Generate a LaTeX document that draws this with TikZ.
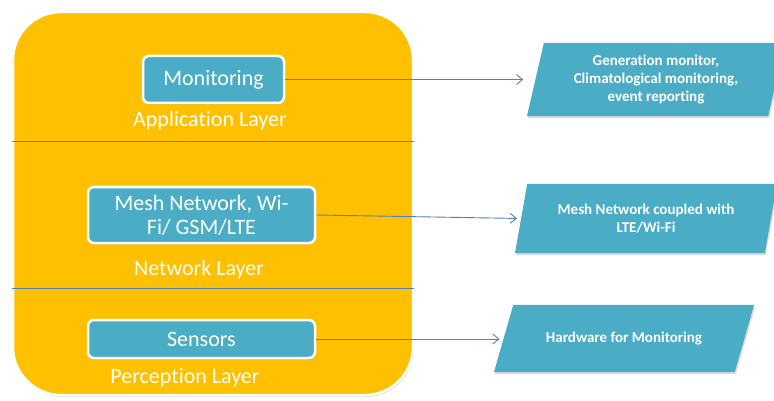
\documentclass[tikz,border=0pt]{standalone}
\usepackage{fontspec}
\setmainfont{Carlito}[Ligatures=NoCommon]
\usetikzlibrary{arrows.meta,shapes.geometric,shadows}
\definecolor{layerorange}{HTML}{FFC000}
\definecolor{boxteal}{HTML}{4BACC6}
\definecolor{linkblue}{HTML}{4F81BD}
\begin{document}
\begin{tikzpicture}[x=1pt,y=-1pt,
    stack/.style={draw=white, line width=2.5pt, fill=layerorange, rounded corners=48pt,
        minimum width=400pt, minimum height=383pt,
        drop shadow={shadow xshift=1pt, shadow yshift=-2pt, opacity=0.25}},
    layerbox/.style={draw=white, line width=2.5pt, fill=boxteal, rounded corners=6pt,
        text=white, font=\fontsize{22}{24}\selectfont, align=center, inner sep=0pt,
        drop shadow={shadow xshift=1pt, shadow yshift=-1.5pt, opacity=0.3}},
    layername/.style={text=white, font=\fontsize{22}{24}\selectfont, inner sep=0pt},
    usecase/.style={trapezium, trapezium stretches body, fill=boxteal, text=white,
        align=center, font=\fontsize{15}{18}\selectfont\bfseries, inner xsep=0pt,
        drop shadow={shadow xshift=1pt, shadow yshift=-2pt, opacity=0.3}},
    divider/.style={linkblue, line width=0.8pt},
    link/.style={linkblue, line width=0.9pt, -{Straight Barb[length=6pt,width=10pt]}}]
\useasboundingbox (0,0) rectangle (774,401);

% layer stack
\node[stack] (stack) at (213,203.5) {};
\coordinate (d1w) at (12,141);
\coordinate (d1e) at (414,141);
\coordinate (d2w) at (12,288);
\coordinate (d2e) at (414,288);
\draw[divider] (d1w) -- (d1e);
\draw[divider] (d2w) -- (d2e);

\node[layerbox, minimum width=141pt, minimum height=47pt] (mon) at (213.5,79.5) {Monitoring};
\node[layername] (app) at (210,121) {Application Layer};
\node[layerbox, minimum width=227pt, minimum height=56pt] (mesh) at (201.5,215) {Mesh Network, Wi-\\Fi/ GSM/LTE};
\node[layername] (net) at (199,270) {Network Layer};
\node[layerbox, minimum width=227pt, minimum height=38pt] (sens) at (201.5,339) {Sensors};
\node[layername] (per) at (185,378) {Perception Layer};

% use cases
\node[usecase, trapezium left angle=77, trapezium right angle=103,
    inner ysep=12pt, minimum width=258pt] (gen) at (656,79.5)
    {Generation monitor,\\Climatological monitoring,\\event reporting};
\node[usecase, trapezium left angle=80, trapezium right angle=100,
    inner ysep=20pt, minimum width=262pt] (meshuse) at (646,218.5)
    {Mesh Network coupled with\\LTE/Wi-Fi};
\node[usecase, trapezium left angle=74, trapezium right angle=106,
    inner ysep=27pt, minimum width=260pt] (hw) at (624,338.5)
    {Hardware for Monitoring};

\draw[link, shorten >=12pt] (mon.east) -- (mon.east -| gen.west);
\draw[link, shorten >=4pt] (mesh.east) -- (meshuse.west);
\draw[link, shorten >=4pt] (sens.east) -- (sens.east -| hw.west);
\end{tikzpicture}
\end{document}
